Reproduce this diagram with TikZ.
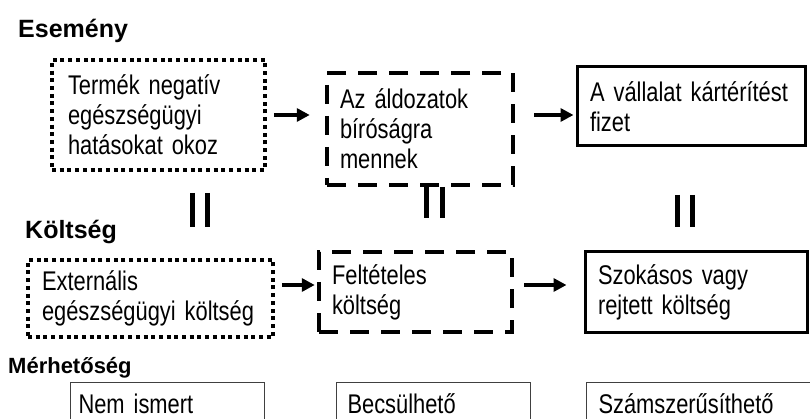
\documentclass[tikz,border=0pt]{standalone}
\usepackage{fontspec}
\setmainfont{Liberation Sans}[FakeStretch=0.81, WordSpace=0.8]
\newfontfamily\headfont{Liberation Sans}
\usepackage{tikz}
\usetikzlibrary{arrows.meta}
\usetikzlibrary{positioning}
\tikzset{>={Triangle[length=13pt,width=13pt]}}

\begin{document}
\begin{tikzpicture}[x=1pt, y=-1pt,
            box/.style={rectangle, align=left, inner xsep=13pt, inner ysep=0pt, font=\fontsize{27}{30}\selectfont},
            dotbox/.style={box, draw, line width=3.5pt, dash pattern=on 4pt off 3.7pt},
            dashbox/.style={box, draw, line width=4.5pt, dash pattern=on 19pt off 12pt},
            solidbox/.style={box, draw, line width=3pt},
            thinbox/.style={box, draw=black!75, line width=1pt, anchor=north west, minimum height=42pt, text height=19pt, text depth=0pt},
            heading/.style={anchor=base west, inner sep=0pt, font=\headfont\bfseries\fontsize{25}{28}\selectfont},
            arr/.style={->, line width=4pt},
            eqbar/.style={line width=5pt}
        ]
        \clip (0,0) rectangle (810,419);
        % event row
        \node[heading] (event) at (18,38) {Esemény};
        \node[dotbox, inner xsep=16pt, text width=181pt, minimum height=110pt] (harm) at (158.5,115) {Termék negatív\\egészségügyi\\hatásokat okoz};
        \node[dashbox, text width=160pt, minimum height=112pt] (court) at (420,129) {Az áldozatok\\bíróságra\\mennek};
        \node[solidbox, text width=202pt, minimum height=79pt] (pays) at (691,106.5) {A vállalat kártérítést\\fizet};
        \draw[arr] ([xshift=7pt]harm.east) -- ([xshift=-15pt]harm.east -| court.west);
        \draw[arr] ([xshift=19pt, yshift=14pt]court.east) -- ([xshift=-2pt, yshift=14pt]court.east -| pays.west);
        % equal signs
        \foreach \x/\ya/\yb in {192/193/227, 207/193/227, 426/187/218, 442/187/218, 677/195/227, 692/195/227}
            \draw[eqbar] (\x,\ya) -- (\x,\yb);
        % cost row
        \node[heading] (cost) at (25,239) {Költség};
        \node[dotbox, inner xsep=14pt, text width=217pt, minimum height=77pt] (external) at (150.5,298.5) {Externális\\egészségügyi költség};
        \node[dashbox, text width=167pt, minimum height=80pt] (contingent) at (415.5,292) {Feltételes\\költség};
        \node[solidbox, text width=196pt, minimum height=80pt] (hidden) at (696,292) {Szokásos vagy\\rejtett költség};
        \draw[arr] ([xshift=7pt, yshift=13.5pt]external.east) -- ([xshift=-2pt, yshift=13.5pt]external.east -| contingent.west);
        \draw[arr] ([xshift=10pt, yshift=7pt]contingent.east) -- ([xshift=-17pt, yshift=7pt]contingent.east -| hidden.west);
        % measurability row
        \node[heading, font=\headfont\bfseries\fontsize{22}{25}\selectfont] (measure) at (8,373) {Mérhetőség};
        \node[thinbox, inner xsep=8pt, text width=178pt] (unknown) at (70,382) {Nem ismert};
        \node[thinbox, inner xsep=11pt, text width=172pt] (estimable) at (336,382) {Becsülhető};
        \node[thinbox, inner xsep=12pt, text width=216pt] (quantifiable) at (586,382) {Számszerűsíthető};
\end{tikzpicture}
\end{document}
